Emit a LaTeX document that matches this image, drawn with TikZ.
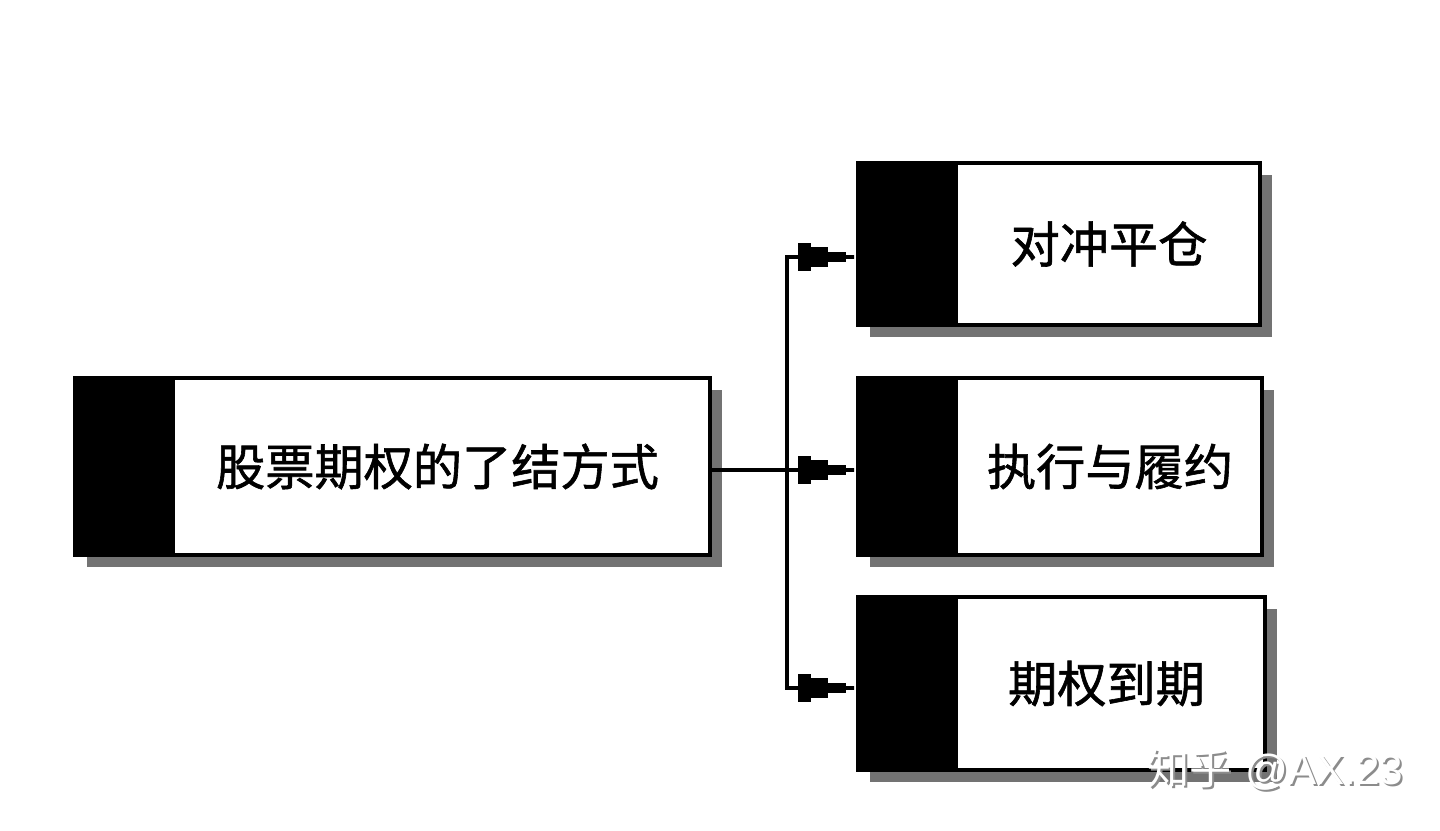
\documentclass[tikz,border=0pt]{standalone}
\usepackage{fontspec}
\newfontfamily\cjk{Noto Sans CJK SC}
\newfontfamily\cjkbox[FakeBold=1.2]{Noto Sans CJK SC}
\setsansfont{Liberation Sans}
\usetikzlibrary{arrows.meta,shadows}
\tikzset{
  optbox/.style={draw, line width=1.1pt, fill=white, font=\cjkbox\fontsize{14}{16}\selectfont,
    drop shadow={shadow xshift=0.12, shadow yshift=-0.12, fill=black!55, opacity=1},
    path picture={\fill[black] (path picture bounding box.south west) rectangle ([xshift=1cm]path picture bounding box.north west);}},
  plug/.style={line width=1.1pt, -{Rectangle[length=3.7pt,width=8pt]Rectangle[length=4.8pt,width=5.7pt]Rectangle[length=5.1pt,width=2.8pt]Rectangle[length=2.8pt,width=1.1pt]}}
}
\begin{document}
\begin{tikzpicture}
\useasboundingbox (0,0) rectangle (14.4,8.3);
\node[optbox, minimum width=6.35cm, minimum height=1.77cm] (root) at (3.925,3.635) {\hspace*{0.9cm}股票期权的了结方式};
\node[optbox, minimum width=4.02cm, minimum height=1.62cm] (hedge) at (10.59,5.86) {\hspace*{1cm}对冲平仓};
\node[optbox, minimum width=4.04cm, minimum height=1.77cm] (exercise) at (10.60,3.635) {\hspace*{1cm}执行与履约};
\node[optbox, minimum width=4.07cm, minimum height=1.73cm] (expiry) at (10.615,1.465) {\hspace*{0.9cm}期权到期};
\coordinate (fork) at (7.87,3.6);
\path[draw,line width=1.1pt] ([yshift=-0.035cm]root.east) -- (fork);
\path[draw,plug] (fork) |- ([yshift=-0.13cm]hedge.west);
\path[draw,plug] (fork) |- ([yshift=-0.035cm]exercise.west);
\path[draw,plug] (fork) |- ([yshift=-0.045cm]expiry.west);
% watermark
\node[text=black!45, font=\fontsize{12}{14}\selectfont] (markshadow) at (12.77,0.58) {{\cjk 知乎} \sffamily @AX.23};
\node[text=white, font=\fontsize{12}{14}\selectfont] (mark) at (12.75,0.6) {{\cjk 知乎} \sffamily @AX.23};
\end{tikzpicture}
\end{document}
